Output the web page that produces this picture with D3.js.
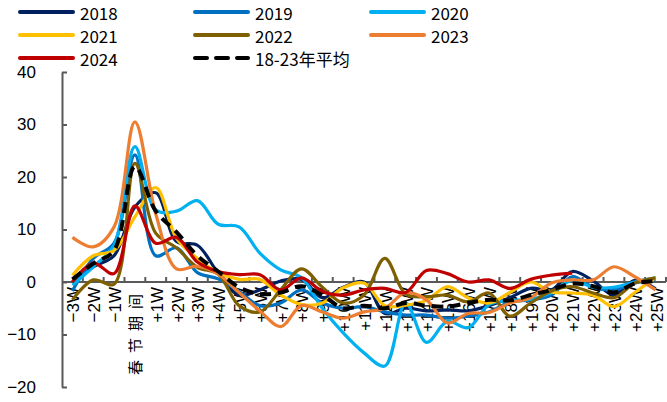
<!DOCTYPE html>
<html><head><meta charset="utf-8">
<script src="https://cdn.jsdelivr.net/npm/d3@7/dist/d3.min.js"></script>
<style>
html,body{margin:0;padding:0;background:#fff;}
svg{display:block;}
</style></head>
<body>
<svg id="chart" width="667" height="402"></svg>
<script>
const categories = ["−3W","−2W","−1W","春节期间","+1W","+2W","+3W","+4W","+5W","+6W","+7W","+8W","+9W","+10W","+11W","+12W","+13W","+14W","+15W","+16W","+17W","+18W","+19W","+20W","+21W","+22W","+23W","+24W","+25W"];
const yTicks = [-20,-10,0,10,20,30,40];
const seriesNames = ["2018","2019","2020","2021","2022","2023","2024","18-23年平均"];
const v2018 = [0,2.9,5,14.3,17,7.7,7,1.7,-2.5,-1.5,0.2,0.5,-3,-1,0,-6,-5,-5.5,-5.3,-5.5,-4.5,-3,-1.2,-1.5,2,0.2,-2.5,0.3,-1.3];
const v2019 = [-1.7,4.5,7.4,24.2,5,6.5,1.8,0.6,-1.8,-4.5,-4,-1.5,-4,-5,-4.7,-5.7,-6.3,-6.3,-6.9,-6.5,-5.7,-3.8,-3.4,-2.5,1,-1,-1.5,-0.2,0.4];
const v2020 = [-0.6,2.9,7,25.8,13.7,13.5,15.5,11,10.5,5.5,2.3,0.8,-5,-9.7,-13.5,-16,-4,-11.5,-7.5,-8.7,-4.3,-3.5,-3.3,-2,0.3,-1,-1,0,0.8];
const v2021 = [1.3,5,6,12.4,18,8.3,4.5,1.8,0.5,0.5,-2.5,-4.3,-4,-1.1,-0.2,-4.5,-4.4,-3.5,-0.9,-3,-4,-2,0,-1.9,-2.1,-2.5,-4.7,-2,0.8];
const v2022 = [-3.4,0.4,-0.4,22.6,9.3,6.5,2.8,1.5,-4.5,-5.7,-1.5,2.5,-1,-4,-2.5,4.5,-2.3,-2.8,-2.5,-3.8,-2.1,-6.5,-4,-1.7,-0.9,-2.1,-3,-0.2,0.8];
const v2023 = [8.5,6.7,10.5,30.5,13,2.5,3,1.5,-2,-5.5,-8.5,-4.5,-5.7,-6.9,-5.7,-5,-2,-3.4,-7.8,-6,-5.8,-4,-3,-0.2,0.4,0.4,2.9,1,-1.5];
const v2024 = [0,3.6,1.6,14.5,7.4,8.5,3.8,2.0,1.4,1.4,-1.5,0.8,-1.8,-2.5,-1.5,-1.2,-2.0,2.2,1.6,0,0.4,-1.2,0.5,1.3,1.7];
const vAvg = [0.5,3.5,6,22,13.5,9.5,5,2,-1,-2.3,-2,-0.8,-2.5,-5,-4.5,-5,-4,-4.5,-4.7,-4,-3.4,-3.5,-2.5,-1.5,-0.3,-0.8,-2,-0.3,0.2];
const colors = ["#002060","#0070C0","#00B0F0","#FFC000","#7F6000","#ED7D31","#C00000","#000000"];
const allValues = [v2018,v2019,v2020,v2021,v2022,v2023,v2024,vAvg];

const svg = d3.select("#chart");
const x = d3.scaleBand().domain(categories).range([62,666]).padding(0);
const y = d3.scaleLinear().domain([-20,40]).range([387,72]);
const cx = c => x(c) + x.bandwidth()/2;
const axisColor = "#595959";
const font = "'Liberation Sans', Arial, sans-serif";

// Y axis
const yAxis = d3.axisLeft(y).tickValues(yTicks).tickSizeInner(-5).tickSizeOuter(0).tickPadding(26)
  .tickFormat(d => d < 0 ? "−" + Math.abs(d) : String(d));
const gy = svg.append("g").attr("transform","translate(62,0)").call(yAxis);
gy.select(".domain").attr("stroke",axisColor).attr("stroke-width",2);
gy.selectAll(".tick line").attr("stroke",axisColor).attr("stroke-width",2);
gy.selectAll(".tick text").attr("font-family",font).attr("font-size",17).attr("fill","#000");

// X axis at zero
const gx = svg.append("g");
gx.append("line").attr("x1",62).attr("x2",666).attr("y1",y(0)).attr("y2",y(0))
  .attr("stroke",axisColor).attr("stroke-width",2);
gx.selectAll("line.tk").data(categories.slice(1)).enter().append("line").attr("class","tk")
  .attr("x1",d=>x(d)).attr("x2",d=>x(d)).attr("y1",y(0)).attr("y2",y(0)-5)
  .attr("stroke",axisColor).attr("stroke-width",2);
gx.append("line").attr("x1",666).attr("x2",666).attr("y1",y(0)).attr("y2",y(0)-5)
  .attr("stroke",axisColor).attr("stroke-width",2);
gx.selectAll("text").data(categories).enter().append("text")
  .attr("transform",d=>`translate(${cx(d)+1},${y(0)+5}) rotate(-90)`)
  .attr("text-anchor","end").attr("dy","0.35em")
  .attr("font-family",d=> d==="春节期间" ? "'Noto Sans CJK SC', sans-serif" : font)
  .attr("font-size",d=> d==="春节期间" ? 15 : 17)
  .attr("letter-spacing",d=> d==="春节期间" ? 7 : 0)
  .text(d=>d);

// Lines
const line = d3.line().x((d,i)=>cx(categories[i])).y(d=>y(d)).curve(d3.curveCatmullRom.alpha(0.5));
allValues.forEach((vals,k)=>{
  svg.append("path").datum(vals).attr("d",line).attr("fill","none")
    .attr("stroke",colors[k]).attr("stroke-width",k===7?4:3.2)
    .attr("stroke-dasharray",k===7?"11,7":null)
    .attr("stroke-linejoin","round");
});

// Legend
const legendCols = [20,195,371];
const legendRows = [12,35,58];
seriesNames.forEach((name,k)=>{
  const col = k%3, row = Math.floor(k/3);
  const lx = legendCols[col], ly = legendRows[row];
  svg.append("line").attr("x1",lx).attr("x2",lx+53).attr("y1",ly).attr("y2",ly)
    .attr("stroke",colors[k]).attr("stroke-width",4).attr("stroke-linecap","round")
    .attr("stroke-dasharray",k===7?"12,9":null);
  svg.append("text").attr("x",lx+60).attr("y",ly+2).attr("dy","0.35em")
    .attr("font-family","'Liberation Sans Narrow', 'Arial Narrow', 'Noto Sans CJK SC', sans-serif")
    .attr("font-size",17).attr("fill","#000").text(name);
});
</script>
</body></html>
